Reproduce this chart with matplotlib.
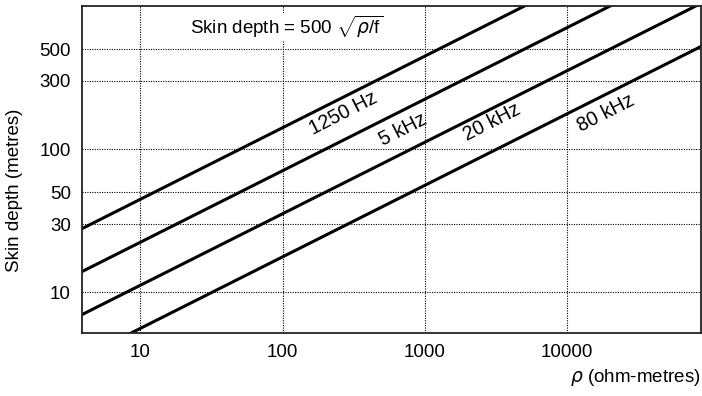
import matplotlib
matplotlib.use("Agg")
import matplotlib.pyplot as plt
import numpy as np

plt.rcParams['font.family'] = ['Liberation Sans', 'DejaVu Sans']
plt.rcParams['mathtext.fontset'] = 'custom'
plt.rcParams['mathtext.rm'] = 'Liberation Sans'
plt.rcParams['mathtext.it'] = 'DejaVu Sans:italic'

# resistivity end points (ohm-metres) and skin depth (metres)
rho_pts = [1, 100000]
freq_labels = ["1250 Hz", "5 kHz", "20 kHz", "80 kHz"]
depth_1250 = [14.1, 4472]
depth_5k = [7.07, 2236]
depth_20k = [3.54, 1118]
depth_80k = [1.77, 559]
depths = [depth_1250, depth_5k, depth_20k, depth_80k]

# label positions (rho, depth)
label_rho = [265, 700, 2950, 18700]
label_depth = [179, 136, 155, 179]

xticks = [10, 100, 1000, 10000]
xtick_labels = ["10", "100", "1000", "10000"]
yticks = [10, 30, 50, 100, 300, 500]
ytick_labels = ["10", "30", "50", "100", "300", "500"]

fig = plt.figure(figsize=(7.02, 3.96), dpi=100)
ax = fig.add_axes([82/702, 1-333/396, 619/702, 327/396])
ax.set_xscale('log')
ax.set_yscale('log')
ax.set_xlim(3.9, 87000)
ax.set_ylim(5.2, 1000)

for d in depths:
    ax.plot(rho_pts, d, color='black', lw=2.2, solid_capstyle='butt')

ax.set_xticks(xticks)
ax.set_xticklabels(xtick_labels)
ax.set_yticks(yticks)
ax.set_yticklabels(ytick_labels)
ax.minorticks_off()
ax.tick_params(length=0, labelsize=13.5, pad=8)
ax.grid(True, which='major', color='black', linestyle=(0, (1, 1.2)), lw=0.8)
ax.set_axisbelow(True)

for s in ax.spines.values():
    s.set_linewidth(1.3)
    s.set_color('#222222')
ax.spines['right'].set_visible(True)

for lab, r, d in zip(freq_labels, label_rho, label_depth):
    ax.text(r, d, lab, fontsize=14.2, rotation=27, rotation_mode='anchor',
            ha='center', va='center')

ax.text(190/702, 1-27/396, r'Skin depth = 500 $\sqrt{\rho/\mathrm{f}}$',
        transform=fig.transFigure, fontsize=13.5, ha='left', va='center',
        bbox=dict(facecolor='white', edgecolor='none', pad=1))

fig.text(15/702, 1-190/396, 'Skin depth (metres)', rotation=90, fontsize=13.5,
         ha='center', va='center')
fig.text(700/702, 1-378/396, r'$\rho$ (ohm-metres)', fontsize=13.5,
         ha='right', va='center')

fig.savefig('out.png', dpi=100)
